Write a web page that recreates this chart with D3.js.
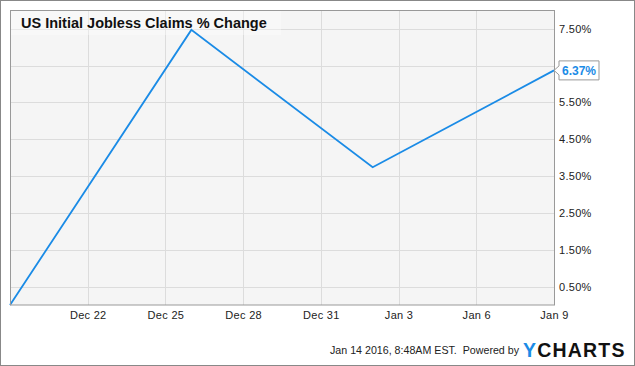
<!DOCTYPE html>
<html><head><meta charset="utf-8">
<script src="https://cdn.jsdelivr.net/npm/d3@7"></script>
<style>body{margin:0;background:#fff}svg{display:block;font-family:Arial,"Liberation Sans",sans-serif}</style>
</head><body><div id="chart"></div>
<script>
const dates = ["2015-12-19","2015-12-26","2016-01-02","2016-01-09"];
const values = [0.0, 7.47, 3.74, 6.37];
const yTicks = [0.5,1.5,2.5,3.5,4.5,5.5,6.5,7.5];
const xTickDates = ["2015-12-22","2015-12-25","2015-12-28","2015-12-31","2016-01-03","2016-01-06","2016-01-09"];
const title = "US Initial Jobless Claims % Change";
const footer = "Jan 14 2016, 8:48AM EST.  Powered by";
const lastLabel = "6.37%";

const W=635,H=366, m={l:10,t:10,r:81,b:61};
const pw=W-m.l-m.r, ph=H-m.t-m.b;
const parse=d3.utcParse("%Y-%m-%d");
const svg=d3.select("#chart").append("svg").attr("width",W).attr("height",H);
svg.append("rect").attr("x",0.5).attr("y",0.5).attr("width",W-1).attr("height",H-1).attr("fill","#fff").attr("stroke","#888");
const x=d3.scaleUtc().domain([parse(dates[0]),parse(dates[dates.length-1])]).range([m.l,m.l+pw]);
const y=d3.scaleLinear().domain([0.0,8.01]).range([m.t+ph,m.t]);
svg.append("rect").attr("x",m.l).attr("y",m.t).attr("width",pw).attr("height",ph).attr("fill","#f5f5f5");
// grid
svg.append("g").selectAll("line").data(yTicks).join("line")
 .attr("x1",m.l).attr("x2",m.l+pw).attr("y1",d=>Math.round(y(d))+0.5).attr("y2",d=>Math.round(y(d))+0.5)
 .attr("stroke","#dcdcdc");
svg.append("g").selectAll("line").data(xTickDates.slice(0,-1)).join("line")
 .attr("y1",m.t).attr("y2",m.t+ph).attr("x1",d=>Math.round(x(parse(d)))+0.5).attr("x2",d=>Math.round(x(parse(d)))+0.5)
 .attr("stroke","#dcdcdc");
// title
svg.append("rect").attr("x",m.l+1).attr("y",m.t+1).attr("width",270).attr("height",24).attr("fill","#fff").attr("opacity",0.35);
svg.append("text").attr("x",21).attr("y",28).attr("font-size",14.5).attr("font-weight","bold").attr("fill","#111").text(title);
// line
const line=d3.line().x((d,i)=>x(parse(dates[i]))).y(d=>y(d));
svg.append("path").datum(values).attr("d",line).attr("fill","none").attr("stroke","#1a8be6").attr("stroke-width",1.8);
// plot border
svg.append("rect").attr("x",m.l+0.5).attr("y",m.t+0.5).attr("width",pw).attr("height",ph-0.5).attr("fill","none").attr("stroke","#999");
// axes
const yAxis=d3.axisRight(y).tickValues(yTicks).tickFormat(d=>d3.format(".2f")(d)+"%").tickSize(0).tickPadding(5);
const ga=svg.append("g").attr("transform",`translate(${m.l+pw},0)`).call(yAxis);
ga.select(".domain").remove();
ga.selectAll("text").attr("font-size",11).attr("fill","#222").attr("letter-spacing",0.3).attr("font-family","Arial,'Liberation Sans',sans-serif");
const xAxis=d3.axisBottom(x).tickValues(xTickDates.map(parse)).tickFormat(d3.utcFormat("%b %-d")).tickSize(0).tickPadding(6);
const gx=svg.append("g").attr("transform",`translate(0,${m.t+ph})`).call(xAxis);
gx.select(".domain").remove();
gx.selectAll("text").attr("font-size",11).attr("fill","#222").attr("letter-spacing",0.3).attr("font-family","Arial,'Liberation Sans',sans-serif");
// last value label
const lx=x(parse(dates[dates.length-1])), ly=y(values[values.length-1]);
const bx=lx+5, bw=40, bh=19;
svg.append("path").attr("d",`M${lx},${ly} L${bx},${ly-4.5} L${bx},${ly-bh/2} L${bx+bw},${ly-bh/2} L${bx+bw},${ly+bh/2} L${bx},${ly+bh/2} L${bx},${ly+4.5} Z`)
 .attr("fill","#fff").attr("stroke","#999");
svg.append("text").attr("x",bx+bw/2).attr("y",ly+4.5).attr("text-anchor","middle").attr("font-size",12).attr("font-weight","bold").attr("fill","#1a8be6").text(lastLabel);
// footer
svg.append("text").attr("x",330).attr("y",354).attr("font-size",11).attr("fill","#222").attr("xml:space","preserve")
 .attr("textLength",189).attr("lengthAdjust","spacingAndGlyphs").text(footer);
const lg=svg.append("text").attr("x",523).attr("y",357).attr("font-size",19.5).attr("font-weight","bold").attr("letter-spacing",1.2).attr("font-family","Arial,'Liberation Sans',sans-serif");
lg.append("tspan").attr("fill","#1a8be6").text("Y");
lg.append("tspan").attr("fill","#111").text("CHARTS");
</script></body></html>
